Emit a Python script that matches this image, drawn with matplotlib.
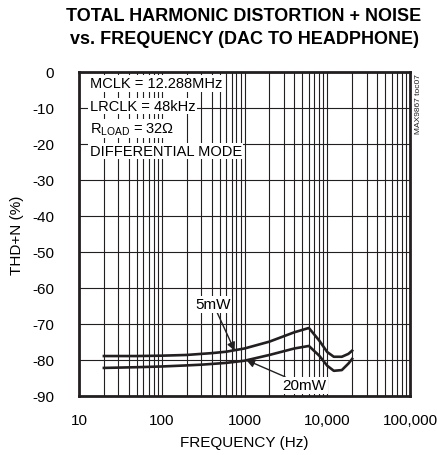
import matplotlib.pyplot as plt
import numpy as np
from matplotlib.ticker import FixedLocator, NullFormatter

plt.rcParams['font.family'] = ['Liberation Sans', 'DejaVu Sans']
plt.rcParams['axes.unicode_minus'] = False

# curve values
freq = [20, 50, 100, 200, 300, 400, 600, 1000, 2000, 4000, 6000, 8000, 10000, 12000, 15000, 18000, 20000]
thd_5mw = [-78.9, -78.9, -78.8, -78.6, -78.3, -78.1, -77.7, -76.8, -74.9, -72.3, -71.1, -74.6, -77.8, -79.1, -79.1, -78.3, -77.4]
thd_20mw = [-82.2, -82.0, -81.8, -81.5, -81.3, -81.1, -80.8, -80.2, -78.6, -76.8, -76.1, -78.8, -81.6, -83.0, -82.8, -81.0, -79.7]

xticks = [10, 100, 1000, 10000, 100000]
xticklabels = ['10', '100', '1000', '10,000', '100,000']
yticks = list(range(-90, 1, 10))

fig = plt.figure(figsize=(4.37, 4.56), dpi=100)
ax = fig.add_axes([79/437, 1 - 397/456, 331/437, 324/456])

ax.plot(freq, thd_5mw, color='#231f20', lw=1.9, zorder=3)
ax.plot(freq, thd_20mw, color='#231f20', lw=1.9, zorder=3)

ax.set_xscale('log')
ax.set_xlim(10, 100000)
ax.set_ylim(-90, 0)
ax.set_xticks(xticks)
ax.set_xticklabels(xticklabels)
minor = [m * 10**d for d in range(1, 5) for m in range(2, 10)]
ax.xaxis.set_minor_locator(FixedLocator(minor))
ax.xaxis.set_minor_formatter(NullFormatter())
ax.set_yticks(yticks)
ax.tick_params(which='both', length=0, labelsize=11, pad=12)
ax.tick_params(axis='y', pad=18)
ax.grid(which='both', color='#231f20', lw=0.8)
for s in ax.spines.values():
    s.set_linewidth(2)
    s.set_color('#231f20')

ax.set_xlabel('FREQUENCY (Hz)', fontsize=11, labelpad=6)
ax.set_ylabel('THD+N (%)', fontsize=11, labelpad=6)

fig.text(244/437, 1 - 28/456, 'TOTAL HARMONIC DISTORTION + NOISE\nvs. FREQUENCY (DAC TO HEADPHONE)',
         ha='center', va='center', fontsize=13, fontweight='heavy', linespacing=1.45)

# conditions box
box = dict(facecolor='white', edgecolor='none', pad=1)
lines = ['MCLK = 12.288MHz', 'LRCLK = 48kHz', r'R$_{\mathregular{LOAD}}$ = 32$\mathregular{\Omega}$', 'DIFFERENTIAL MODE']
for i, t in enumerate(lines):
    ax.text(0.032, 1 - (11.5 + i * 22.5) / 324, t, transform=ax.transAxes, fontsize=10.5,
            va='center', ha='left', bbox=box, zorder=4)

ax.text(1.015, 0.995, 'MAX9867 toc07', transform=ax.transAxes, rotation=90, fontsize=6,
        va='top', ha='left', color='#231f20')

arrow = dict(arrowstyle='-|>', color='#231f20', lw=1, mutation_scale=12, shrinkA=0, shrinkB=0)
ax.annotate('5mW', xy=(760, -77.4), xytext=(420, -64.5), fontsize=11, ha='center', va='center',
            bbox=box, arrowprops=arrow, zorder=5)
ax.annotate('20mW', xy=(1050, -80.0), xytext=(5300, -87.0), fontsize=11, ha='center', va='center',
            bbox=box, arrowprops=arrow, zorder=5)

fig.savefig('out.png', dpi=100)
